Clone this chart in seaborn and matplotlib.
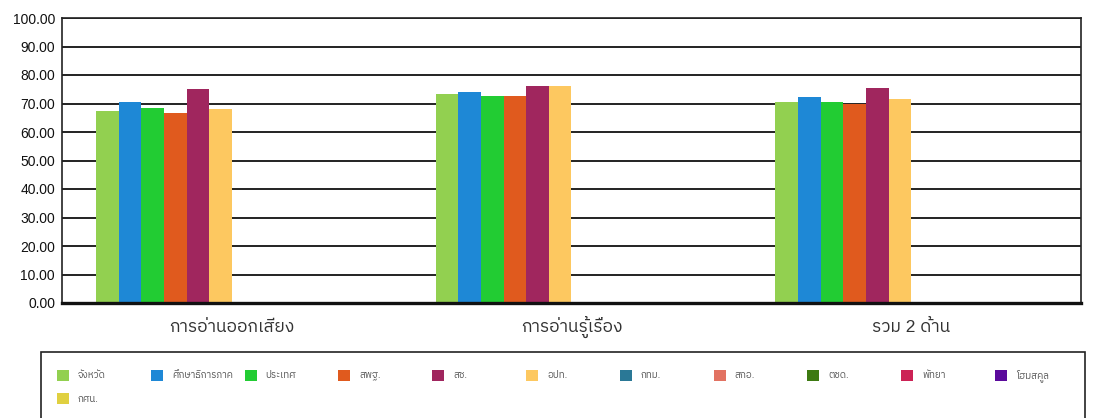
import matplotlib
matplotlib.use('Agg')
import matplotlib.pyplot as plt
from matplotlib import font_manager
from matplotlib.patches import Rectangle
from fontTools.ttLib import TTFont
import pandas as pd
import numpy as np
import seaborn as sns

categories = ['การอ่านออกเสียง', 'การอ่านรู้เรื่อง', 'รวม 2 ด้าน']
series = ['จังหวัด', 'ศึกษาธิการภาค', 'ประเทศ', 'สพฐ.', 'สช.', 'อปท.',
          'กทม.', 'สกอ.', 'ตชด.', 'พัทยา', 'โฮมสคูล', 'กศน.']
values = {
    'จังหวัด': [67.5, 73.3, 70.7],
    'ศึกษาธิการภาค': [70.6, 73.9, 72.4],
    'ประเทศ': [68.5, 72.8, 70.7],
    'สพฐ.': [66.5, 72.8, 69.7],
    'สช.': [75.0, 76.0, 75.4],
    'อปท.': [68.0, 76.0, 71.6],
    'กทม.': [np.nan, np.nan, np.nan],
    'สกอ.': [np.nan, np.nan, np.nan],
    'ตชด.': [np.nan, np.nan, np.nan],
    'พัทยา': [np.nan, np.nan, np.nan],
    'โฮมสคูล': [np.nan, np.nan, np.nan],
    'กศน.': [np.nan, np.nan, np.nan],
}
colors = ['#92d050', '#1e88d6', '#22cc33', '#e05a1e', '#a0265e', '#fdc860',
          '#2a7896', '#e27262', '#3d7a12', '#cc2255', '#5b0a9c', '#e0d040']

rows = []
for s in series:
    for c, v in zip(categories, values[s]):
        rows.append({'category': c, 'series': s, 'value': v})
df = pd.DataFrame(rows)


def find_thai_families():
    # look through installed fonts for anything that has Thai glyphs
    found = []
    for f in font_manager.fontManager.ttflist:
        try:
            cmap = TTFont(f.fname, fontNumber=0, lazy=True).getBestCmap()
        except Exception:
            continue
        if cmap and 0x0E01 in cmap and 0x0E49 in cmap and f.name not in found:
            found.append(f.name)
    found.sort(key=lambda n: (0 if 'Sans' in n else 1, n))
    return found


thai_fams = find_thai_families()

sns.set_theme(style='white')
plt.rcParams['font.family'] = ['Liberation Sans'] + thai_fams + ['DejaVu Sans']

fig = plt.figure(figsize=(10.93, 4.18), dpi=100)
W, H = 1093, 418
ax = fig.add_axes([62 / W, 1 - 303 / H, (1081 - 62) / W, (303 - 18) / H])

sns.barplot(data=df, x='category', y='value', hue='series', order=categories,
            hue_order=series, palette=colors, width=0.8, saturation=1,
            legend=False, ax=ax, zorder=3, linewidth=0)

ax.set_ylim(0, 100)
ax.set_xlim(-0.5, 2.5)
ax.set_yticks(np.arange(0, 101, 10))
ax.set_yticklabels([f'{t:.2f}' for t in np.arange(0, 101, 10)], fontsize=10, color='#111111')
ax.tick_params(axis='x', labelsize=12.5, colors='#333333', length=0, pad=21)
ax.tick_params(axis='y', length=0, pad=5)
for lbl in ax.get_xticklabels():
    lbl.set_verticalalignment('baseline')
ax.set_xlabel('')
ax.set_ylabel('')
ax.yaxis.grid(True, color='#222222', linewidth=1.4, zorder=1)
ax.set_axisbelow(True)
for side in ['left', 'right', 'top']:
    ax.spines[side].set_color('#222222')
    ax.spines[side].set_linewidth(1.2)
ax.spines['bottom'].set_color('#111111')
ax.spines['bottom'].set_linewidth(2.4)
ax.spines['bottom'].set_zorder(5)

# legend box below the chart, items on a fixed grid
fig.add_artist(Rectangle((41 / W, -0.1), (1085 - 41) / W, 1.1 - 352 / H,
                         transform=fig.transFigure, fill=False,
                         edgecolor='#222222', linewidth=1.2))
for i, (name, col) in enumerate(zip(series, colors)):
    r, c = divmod(i, 11)
    x0 = 57 + c * 93.8
    yc = 375.5 + r * 23
    fig.add_artist(Rectangle((x0 / W, 1 - (yc + 5.5) / H), 12 / W, 11 / H,
                             transform=fig.transFigure, facecolor=col, edgecolor='none'))
    fig.text((x0 + 21) / W, 1 - yc / H, name, fontsize=7, color='#555555',
             ha='left', va='center')

fig.savefig('out.png', dpi=100)
